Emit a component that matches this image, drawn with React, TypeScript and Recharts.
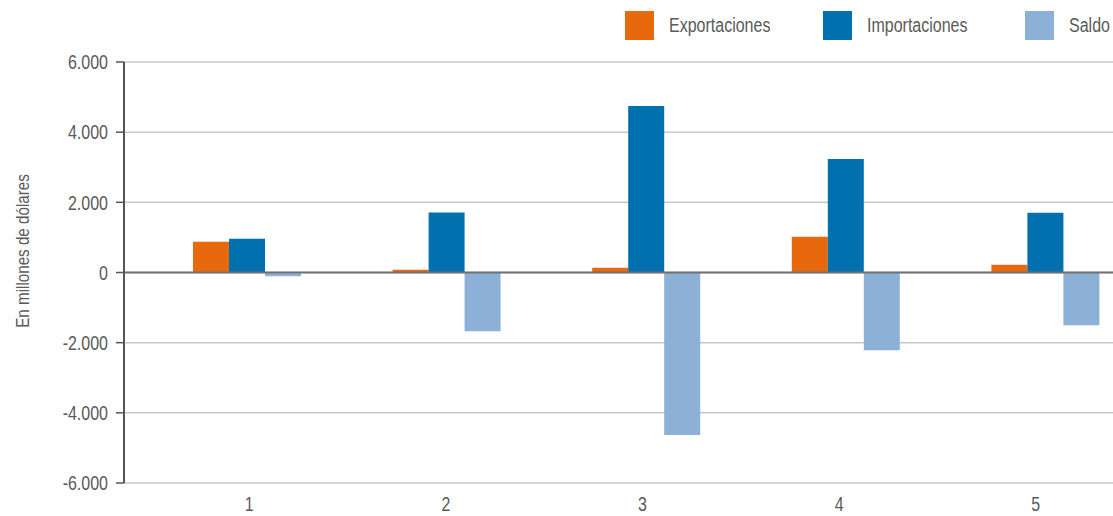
import React from 'react';
import { BarChart, Bar, XAxis, YAxis, CartesianGrid, ReferenceLine, Legend } from 'recharts';

const categories = ['1', '2', '3', '4', '5'];
const exportaciones = [876, 80, 137, 1018, 222];
const importaciones = [962, 1710, 4745, 3238, 1701];
const saldo = [-105, -1676, -4634, -2215, -1504];
const yTicks = [-6000, -4000, -2000, 0, 2000, 4000, 6000];

const seriesInfo = [
  { key: 'Exportaciones', color: '#E8690D' },
  { key: 'Importaciones', color: '#0070AF' },
  { key: 'Saldo', color: '#8CB0D6' },
];

const data = categories.map((c, i) => ({
  cat: c,
  Exportaciones: exportaciones[i],
  Importaciones: importaciones[i],
  Saldo: saldo[i],
}));

const FONT = "'Liberation Sans', Arial, sans-serif";
const TEXT = '#5a5a5a';
const SX = 0.8;

const fmt = (v: number) => {
  const s = Math.abs(v).toString().replace(/\B(?=(\d{3})+(?!\d))/g, '.');
  return v < 0 ? '-' + s : s;
};

const YTick = (props: any) => {
  const { x, y, payload } = props;
  return (
    <g transform={`translate(${x},${y})`}>
      <text transform={`scale(${SX},1)`} textAnchor="end" dy="0.36em" fill={TEXT} fontFamily={FONT} fontSize={20}>
        {fmt(payload.value)}
      </text>
    </g>
  );
};

const XTick = (props: any) => {
  const { x, y, payload } = props;
  return (
    <g transform={`translate(${x},${y})`}>
      <text transform={`scale(${SX},1)`} textAnchor="middle" dy="0.71em" fill={TEXT} fontFamily={FONT} fontSize={20}>
        {payload.value}
      </text>
    </g>
  );
};

const LegendContent = () => (
  <div style={{ display: 'flex', fontFamily: FONT, fontSize: 20, color: TEXT, whiteSpace: 'nowrap' }}>
    {seriesInfo.map((s, i) => (
      <div key={s.key} style={{ display: 'flex', alignItems: 'center', width: i === 0 ? 198 : i === 1 ? 202 : 80 }}>
        <span style={{ display: 'inline-block', width: 29, height: 29, background: s.color, marginRight: 15, flex: 'none' }} />
        <span style={{ display: 'inline-block', transform: `scaleX(${SX})`, transformOrigin: 'left center' }}>{s.key}</span>
      </div>
    ))}
  </div>
);

const YLabel = () => (
  <g transform="translate(14,243) rotate(-90)">
    <text
      transform={`scale(${SX},1)`}
      textAnchor="middle"
      dy="0.35em"
      fill={TEXT}
      fontFamily={FONT}
      fontSize={19}
    >
      En millones de dólares
    </text>
  </g>
);

export default function App() {
  return (
    <div
      style={{
        width: 1113,
        height: 516,
        paddingLeft: 8,
        paddingTop: 8,
        boxSizing: 'border-box',
        overflow: 'hidden',
        position: 'relative',
        background: '#fff',
      }}
    >
      <style>{'body{margin:0}'}</style>
      <BarChart
        width={1137}
        height={508}
        data={data}
        margin={{ top: 54, right: 0, bottom: 3, left: 0 }}
        barCategoryGap={46}
        barGap={0}
      >
        <CartesianGrid vertical={false} stroke="#c8c8c8" strokeWidth={1.5} />
        <XAxis
          xAxisId="labels"
          dataKey="cat"
          height={30}
          padding={{ left: 27, right: 11 }}
          axisLine={false}
          tickLine={false}
          tickMargin={8}
          tick={<XTick />}
        />
        <XAxis xAxisId="bars" dataKey="cat" hide height={0} padding={{ left: 23, right: 0 }} />
        <YAxis
          width={116}
          domain={[-6000, 6000]}
          ticks={yTicks}
          interval={0}
          axisLine={{ stroke: '#555', strokeWidth: 2 }}
          tickLine={{ stroke: '#555', strokeWidth: 1.5 }}
          tickSize={8}
          tickMargin={8}
          tick={<YTick />}
          label={<YLabel />}
        />
        <Legend
          layout="vertical"
          verticalAlign="middle"
          align="center"
          content={<LegendContent />}
          wrapperStyle={{ position: 'absolute', top: 3, left: 617, width: 480 }}
        />
        {seriesInfo.map((s) => (
          <Bar key={s.key} xAxisId="bars" dataKey={s.key} fill={s.color} isAnimationActive={false} />
        ))}
        <ReferenceLine xAxisId="bars" y={0} stroke="#707070" strokeWidth={2} />
      </BarChart>
    </div>
  );
}
